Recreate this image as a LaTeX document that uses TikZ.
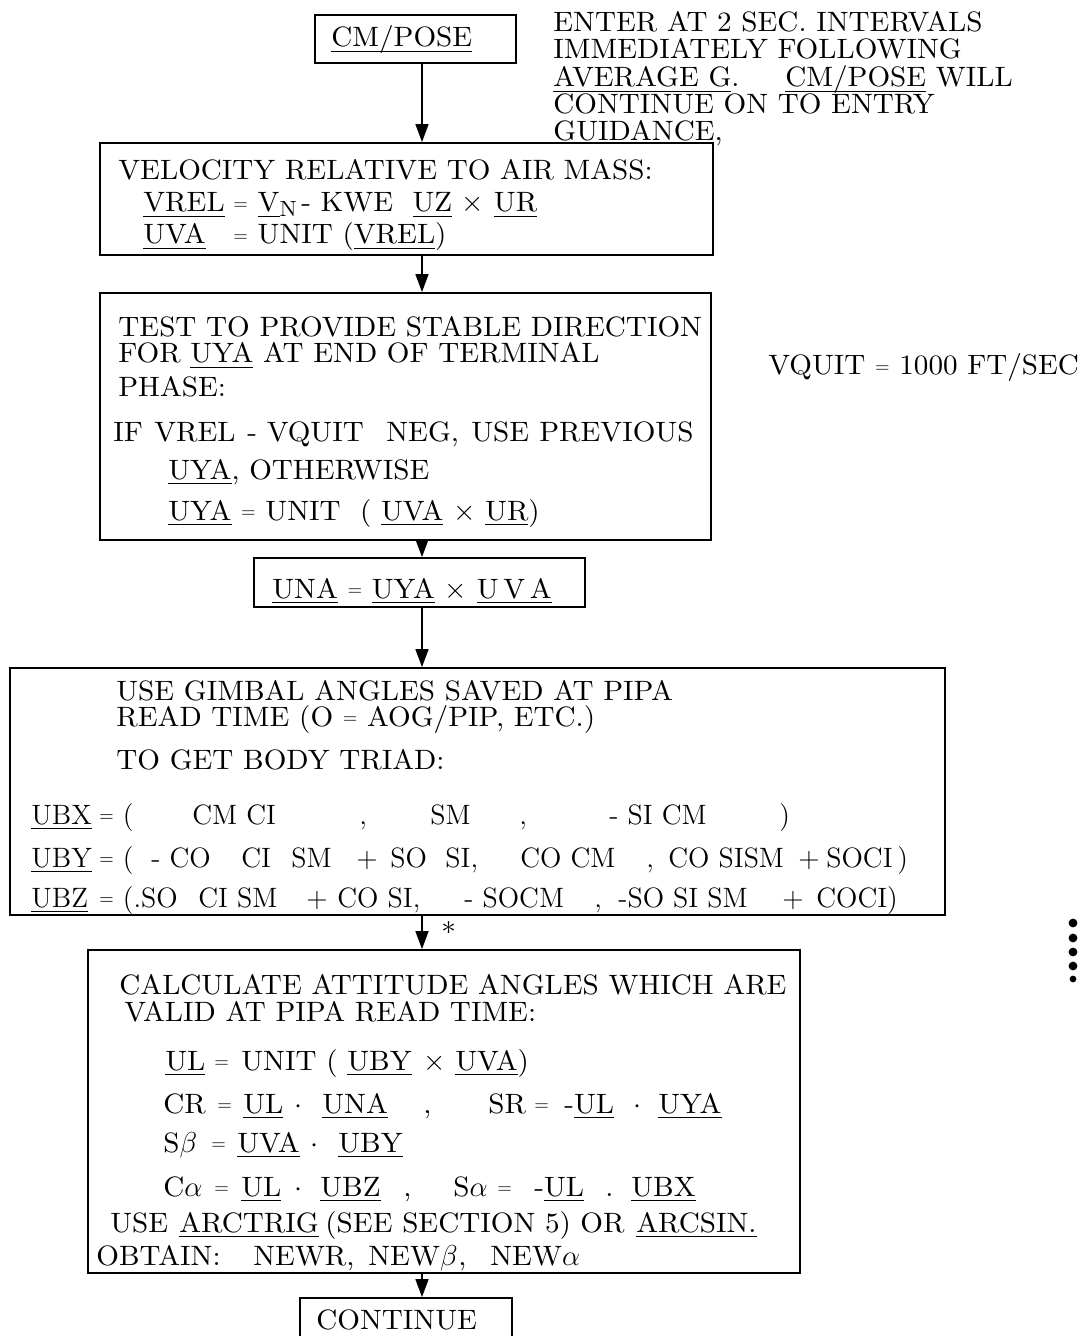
\documentclass[tikz,border=0pt]{standalone}
\usepackage{amsmath}
\usepackage{fontspec}
\usetikzlibrary{arrows.meta,positioning}

\newfontfamily\wide{lmroman10-regular.otf}[FakeStretch=1.04]
\newcommand{\undl}[1]{\leavevmode\setbox0\hbox{#1}\dp0=0pt\vtop{\box0\kern1.8pt\hrule height 0.9pt}}
\newcommand{\cell}[2]{\makebox[#1pt][l]{#2}}
\newcommand{\eq}{\raisebox{1.2pt}{\fontsize{9}{10}\selectfont =}}

\begin{document}
\begin{tikzpicture}[x=0.5pt, y=-0.5pt,
    every node/.style={font=\wide\fontsize{14}{17}\selectfont},
    blk/.style={draw, line width=0.9pt, inner sep=0pt},
    txt/.style={anchor=base west, inner sep=0pt},
    narrow/.style={txt, font=\normalfont\fontsize{14}{17}\selectfont},
    flow/.style={line width=0.8pt, -{Triangle[length=9pt,width=6.5pt]}}]
        \useasboundingbox (0,0) rectangle (1084,1336);

        % Boxes
        \node[blk, minimum width=100.5pt, minimum height=24pt] (cmpose) at (415.5,39) {};
        \node[blk, minimum width=306.5pt, minimum height=56pt] (velbox) at (406.5,199) {};
        \node[blk, minimum width=305.5pt, minimum height=123.5pt] (testbox) at (405.5,416.5) {};
        \node[blk, minimum width=165.5pt, minimum height=24.5pt] (unabox) at (419.5,582.5) {};
        \node[blk, minimum width=467.5pt, minimum height=123.5pt] (triadbox) at (477.5,791.5) {};
        \node[blk, minimum width=356pt, minimum height=161.5pt] (attbox) at (444,1111.5) {};
        \node[blk, minimum width=106pt, minimum height=26pt] (contbox) at (406,1324) {};

        % Entry
        \node[txt] (cmposet) at (331,47) {\undl{CM/POSE}};
        \node[txt] (note1) at (553,32) {ENTER AT 2 SEC.\ INTERVALS};
        \node[txt] (note2) at (553,59) {IMMEDIATELY FOLLOWING};
        \node[txt] (note3) at (553,87) {\cell{116}{\undl{AVERAGE G}.}\undl{CM/POSE} WILL};
        \node[txt] (note4) at (553,114) {CONTINUE ON TO ENTRY};
        \node[txt] (note5) at (553,141) {GUIDANCE,};

        % Air mass velocity
        \node[txt] (vel1) at (118,180) {VELOCITY RELATIVE TO AIR MASS:};
        \node[txt] (vel2) at (143,212) {\cell{45}{\undl{VREL}}\eq\ \undl{V}\raisebox{-0.35ex}{\fontsize{11}{12}\selectfont N}\,- KWE\ \ \undl{UZ} $\times$ \undl{UR}};
        \node[txt] (vel3) at (143,244) {\cell{45}{\undl{UVA}}\eq\ UNIT (\undl{VREL})};

        % Stable direction test
        \node[txt] (test1) at (118,337) {TEST TO PROVIDE STABLE DIRECTION};
        \node[txt] (test2) at (118,363) {FOR \undl{UYA} AT END OF TERMINAL};
        \node[txt] (test3) at (118,396) {PHASE:};
        \node[txt] (test4) at (113,441) {\cell{20.5}{IF}\cell{46.5}{VREL}\cell{69.5}{- VQUIT}\cell{42.5}{NEG,}\cell{34}{USE}PREVIOUS};
        \node[txt] (test5) at (168,479) {\undl{UYA}, OTHERWISE};
        \node[txt] (test6) at (168,520) {\undl{UYA} \eq\ UNIT\ \ ( \undl{UVA} $\times$ \undl{UR})};
        \node[txt] (vquit) at (768,375) {VQUIT \eq\ 1000 FT/SEC};

        \node[txt] (unat) at (272,598) {\undl{UNA} \eq\ \undl{UYA} $\times$ \undl{U\,V\,A}};

        % Body triad
        \node[txt] (gim1) at (116,700) {USE GIMBAL ANGLES SAVED AT PIPA};
        \node[txt] (gim2) at (116,726) {READ TIME (O \eq\ AOG/PIP, ETC.)};
        \node[txt] (gim3) at (116,769) {TO GET BODY TRIAD:};
        \node[narrow] (ubx) at (31,824) {\cell{34}{\undl{UBX}}\cell{46.5}{\eq\ (}\cell{83.5}{CM CI}\cell{35.5}{,}\cell{44.5}{SM}\cell{45}{,}\cell{85}{- SI CM})};
        \node[narrow] (uby) at (31,867) {\cell{34}{\undl{UBY}}\cell{26}{\eq\ (}\cell{45}{- CO}\cell{25}{CI}\cell{32.5}{SM}\cell{17}{+}\cell{27.5}{SO}\cell{37.5}{SI,}\cell{63}{CO CM}\cell{11}{,}\cell{65}{CO SISM}\cell{14}{+}SOCI\,)};
        \node[narrow] (ubz) at (31,907) {\cell{34}{\undl{UBZ}}\cell{49.5}{\eq\ (.SO}\cell{54}{CI SM}\cell{15.5}{+}\cell{63.5}{CO SI,}\cell{65}{- SOCM}\cell{12}{,}\cell{82}{-SO SI SM}\cell{17}{+}COCI)};
        \node[txt] (star) at (441,942) {*};

        % Attitude angles
        \node[txt] (att1) at (119,994) {CALCULATE ATTITUDE ANGLES WHICH ARE};
        \node[txt] (att2) at (124,1021) {VALID AT PIPA READ TIME:};
        \node[txt] (att3) at (165,1070) {\cell{24.5}{\undl{UL}}\cell{13.5}{\eq}\cell{53}{UNIT (}\cell{38}{\undl{UBY}}\cell{16}{$\times$}\undl{UVA})};
        \node[txt] (att4) at (163,1113) {\cell{27}{CR}\cell{13}{\eq}\cell{25.5}{\undl{UL}}\cell{14}{$\cdot$}\cell{50.5}{\undl{UNA}}\cell{32.5}{,}\cell{23}{SR}\cell{15}{\eq}\cell{34.5}{-\undl{UL}}\cell{12.5}{$\cdot$}\undl{UYA}};
        \node[txt] (att5) at (163,1152) {\cell{24}{S$\beta$}\cell{13}{\eq}\cell{36.5}{\undl{UVA}}\cell{14}{$\cdot$}\undl{UBY}};
        \node[txt] (att6) at (163,1196) {\cell{25.5}{C$\alpha$}\cell{13.5}{\eq}\cell{26.5}{\undl{UL}}\cell{13}{$\cdot$}\cell{41.5}{\undl{UBZ}}\cell{25}{,}\cell{22}{S$\alpha$}\cell{18.5}{\eq}\cell{35.5}{-\undl{UL}}\cell{13}{.}\undl{UBX}};
        \node[txt] (att7) at (110,1232) {\cell{34.5}{USE}\cell{73}{\undl{ARCTRIG}}\cell{127.5}{(SEE SECTION 5)}\cell{28}{OR}\undl{ARCSIN.}};
        \node[txt] (att8) at (96,1265) {\cell{78.5}{OBTAIN:}\cell{57.5}{NEWR,}\cell{45}{NEW$\beta$}\cell{16}{,}NEW$\alpha$};

        \node[txt] (contt) at (316,1329) {CONTINUE};

        % Connections
        \coordinate (spine) at (422,0);
        \draw[flow] (cmpose.south -| spine) -- (velbox.north -| spine);
        \draw[flow] (velbox.south -| spine) -- (testbox.north -| spine);
        \draw[flow] (testbox.south -| spine) -- (unabox.north -| spine);
        \draw[flow] (unabox.south -| spine) -- (triadbox.north -| spine);
        \draw[flow] (triadbox.south -| spine) -- (attbox.north -| spine);
        \draw[flow] (attbox.south -| spine) -- (contbox.north -| spine);

        % Margin dots
        \foreach \y in {923,938,952,966} \fill (1073,\y) circle (2.2pt);
        \fill (1073,979) circle (1.7pt);
\end{tikzpicture}
\end{document}
